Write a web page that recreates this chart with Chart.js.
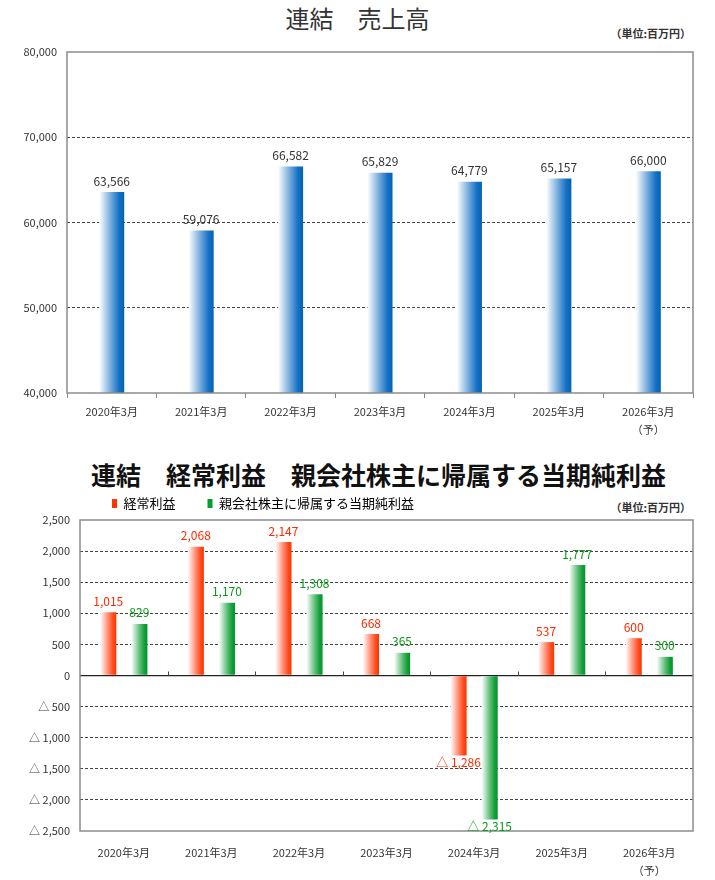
<!DOCTYPE html>
<html lang="ja">
<head>
<meta charset="utf-8">
<script src="https://cdn.jsdelivr.net/npm/chart.js@4.4.1/dist/chart.umd.min.js"></script>
<style>
  body { margin: 0; width: 715px; height: 880px; position: relative; background: #fff; overflow: hidden;
         font-family: "Noto Sans CJK JP", sans-serif; color: #333; }
  .title { position: absolute; left: 0; width: 715px; text-align: center; white-space: nowrap; }
  .unit { position: absolute; right: 24px; font-size: 11px; font-weight: bold; color: #333; }
  canvas { position: absolute; left: 0; }
</style>
</head>
<body>
<div class="title" style="top:0px;font-size:24px;">連結　売上高</div>
<div class="unit" style="top:25px;">（単位:百万円）</div>
<canvas id="salesChart" width="715" height="443" style="top:0"></canvas>

<div class="title" style="top:456px;left:21px;font-size:25px;font-weight:bold;color:#111;">連結　経常利益　親会社株主に帰属する当期純利益</div>
<div class="unit" style="top:499px;">（単位:百万円）</div>
<canvas id="profitChart" width="715" height="435" style="top:445px"></canvas>

<script>
// data
const periods = ['2020年3月', '2021年3月', '2022年3月', '2023年3月', '2024年3月', '2025年3月', ['2026年3月', '（予）']];
const sales = [63566, 59076, 66582, 65829, 64779, 65157, 66000];
const ordinaryProfit = [1015, 2068, 2147, 668, -1286, 537, 600];
const netProfit = [829, 1170, 1308, 365, -2315, 1777, 300];
const salesTicks = [40000, 50000, 60000, 70000, 80000];
const profitTicks = [-2500, -2000, -1500, -1000, -500, 0, 500, 1000, 1500, 2000, 2500];

const FONT = '"Noto Sans CJK JP", sans-serif';

function fmt(v) {
    const s = Math.abs(v).toLocaleString('en-US');
    return v < 0 ? '△ ' + s : s;
}

// horizontal gradient across each bar (white on the left)
function barFill(stops) {
    const solid = stops[stops.length - 1][1];
    return function(ctx) {
        const chart = ctx.chart;
        const xs = chart.scales.x;
        if (!xs || ctx.dataIndex === undefined) return solid;
        const ds = chart.data.datasets[ctx.datasetIndex];
        const nd = chart.data.datasets.length;
        const cat = xs.width / chart.data.labels.length;
        const size = cat * ds.categoryPercentage;
        const chunk = size / nd;
        const start = xs.getPixelForValue(ctx.dataIndex) - size / 2;
        const center = start + chunk * ctx.datasetIndex + chunk / 2;
        const w = chunk * ds.barPercentage;
        if (!isFinite(center) || !isFinite(w) || w <= 0) return solid;
        const g = chart.ctx.createLinearGradient(center - w / 2, 0, center + w / 2, 0);
        stops.forEach(s => g.addColorStop(s[0], s[1]));
        return g;
    };
}

const framePlugin = {
    id: 'frame',
    afterDatasetsDraw(chart) {
        const a = chart.chartArea;
        const c = chart.ctx;
        c.save();
        c.strokeStyle = '#8c8c8c';
        c.lineWidth = 1.5;
        c.strokeRect(a.left, a.top, a.right - a.left, a.bottom - a.top);
        c.restore();
    }
};

const valueLabels = {
    id: 'valueLabels',
    afterDatasetsDraw(chart, args, opts) {
        const c = chart.ctx;
        c.save();
        c.font = '12px ' + FONT;
        c.textAlign = 'center';
        chart.data.datasets.forEach((ds, i) => {
            c.fillStyle = opts.colors[i];
            chart.getDatasetMeta(i).data.forEach((bar, j) => {
                const v = ds.data[j];
                if (v < 0) {
                    c.textBaseline = 'top';
                    c.fillText(fmt(v), bar.x, bar.y + 1);
                } else {
                    c.textBaseline = 'bottom';
                    c.fillText(fmt(v), bar.x, bar.y - 5);
                }
            });
        });
        c.restore();
    }
};

// small ticks on the zero line between categories
const zeroTicks = {
    id: 'zeroTicks',
    afterDatasetsDraw(chart) {
        const xs = chart.scales.x;
        const y0 = chart.scales.y.getPixelForValue(0);
        const c = chart.ctx;
        c.save();
        c.strokeStyle = '#444';
        c.lineWidth = 1;
        for (let i = 1; i < chart.data.labels.length; i++) {
            const x = Math.round((xs.getPixelForValue(i - 1) + xs.getPixelForValue(i)) / 2) + 0.5;
            c.beginPath();
            c.moveTo(x, y0 - 4);
            c.lineTo(x, y0);
            c.stroke();
        }
        c.restore();
    }
};

new Chart(document.getElementById('salesChart'), {
    type: 'bar',
    data: {
        labels: periods,
        datasets: [{
            label: '売上高',
            data: sales,
            categoryPercentage: 1,
            barPercentage: 0.28,
            backgroundColor: barFill([[0, '#ffffff'], [0.55, '#5b9bd5'], [0.8, '#1570c4'], [1, '#0063b8']])
        }]
    },
    options: {
        responsive: false,
        animation: false,
        layout: { padding: { top: 52, right: 22, left: 0, bottom: 0 } },
        plugins: {
            legend: { display: false },
            tooltip: { enabled: false },
            valueLabels: { colors: ['#333'] }
        },
        scales: {
            x: {
                grid: { drawOnChartArea: false, drawTicks: true, tickLength: 5, color: '#888', offset: true },
                border: { display: false },
                ticks: { color: '#333', padding: 5, font: { family: FONT, size: 11, lineHeight: 1.6 }, maxRotation: 0 },
                afterFit: s => { s.height = 50; }
            },
            y: {
                min: salesTicks[0],
                max: salesTicks[salesTicks.length - 1],
                afterBuildTicks: s => { s.ticks = salesTicks.map(v => ({ value: v })); },
                ticks: { color: '#333', padding: 10, font: { family: FONT, size: 11 }, callback: v => fmt(v) },
                grid: {
                    drawTicks: false,
                    color: ctx => (ctx.tick && (ctx.tick.value === salesTicks[0] || ctx.tick.value === salesTicks[salesTicks.length - 1])) ? 'rgba(0,0,0,0)' : '#444'
                },
                border: { display: false, dash: [3, 2] },
                afterFit: s => { s.width = 67; }
            }
        }
    },
    plugins: [framePlugin, valueLabels]
});

new Chart(document.getElementById('profitChart'), {
    type: 'bar',
    data: {
        labels: periods,
        datasets: [{
            label: '経常利益',
            data: ordinaryProfit,
            categoryPercentage: 0.71,
            barPercentage: 0.52,
            backgroundColor: barFill([[0, '#ffffff'], [0.5, '#ff8a70'], [0.8, '#ff4a1c'], [1, '#ff3300']])
        }, {
            label: '親会社株主に帰属する当期純利益',
            data: netProfit,
            categoryPercentage: 0.71,
            barPercentage: 0.52,
            backgroundColor: barFill([[0, '#ffffff'], [0.5, '#66c080'], [0.8, '#16a13a'], [1, '#00922a']])
        }]
    },
    options: {
        responsive: false,
        animation: false,
        layout: { padding: { top: 20, right: 22, left: 0, bottom: 0 } },
        plugins: {
            legend: {
                display: true,
                position: 'top',
                align: 'start',
                fullSize: false,
                labels: {
                    boxWidth: 5,
                    boxHeight: 9,
                    padding: 32,
                    color: '#333',
                    font: { family: FONT, size: 13, lineHeight: 1 },
                    generateLabels: () => [
                        { text: '経常利益', fillStyle: '#ff3300', strokeStyle: '#ff3300', lineWidth: 0, datasetIndex: 0 },
                        { text: '親会社株主に帰属する当期純利益', fillStyle: '#00a030', strokeStyle: '#00a030', lineWidth: 0, datasetIndex: 1 }
                    ]
                }
            },
            tooltip: { enabled: false },
            valueLabels: { colors: ['#ff2a00', '#0a9a1a'] }
        },
        scales: {
            x: {
                grid: { display: false, drawTicks: false },
                border: { display: false },
                ticks: { color: '#333', padding: 13, font: { family: FONT, size: 11, lineHeight: 1.6 }, maxRotation: 0 },
                afterFit: s => { s.height = 49; }
            },
            y: {
                min: profitTicks[0],
                max: profitTicks[profitTicks.length - 1],
                afterBuildTicks: s => { s.ticks = profitTicks.map(v => ({ value: v })); },
                ticks: { color: '#333', padding: 10, font: { family: FONT, size: 11 }, callback: v => fmt(v) },
                grid: {
                    drawTicks: false,
                    lineWidth: ctx => (ctx.tick && ctx.tick.value === 0) ? 1.3 : 1,
                    color: ctx => {
                        if (!ctx.tick) return '#444';
                        const v = ctx.tick.value;
                        if (v === profitTicks[0] || v === profitTicks[profitTicks.length - 1]) return 'rgba(0,0,0,0)';
                        return v === 0 ? '#222' : '#444';
                    }
                },
                border: { display: false, dash: ctx => (ctx.tick && ctx.tick.value === 0) ? [] : [3, 2] },
                afterFit: s => { s.width = 80; }
            }
        }
    },
    plugins: [framePlugin, valueLabels, zeroTicks]
});
</script>
</body>
</html>
